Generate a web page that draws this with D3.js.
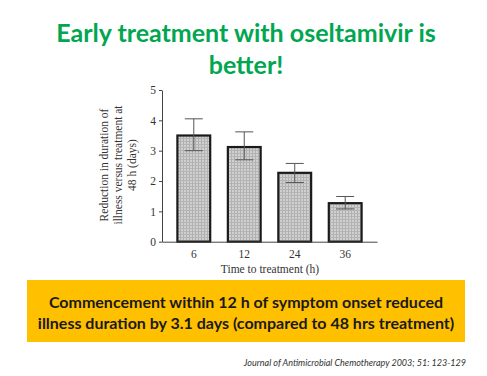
<!DOCTYPE html>
<html>
<head>
<meta charset="utf-8">
<script src="https://cdn.jsdelivr.net/npm/d3@7"></script>
<style>
  body { margin: 0; background: #fff; }
  svg { display: block; }
</style>
</head>
<body>
<svg id="drawing_region"></svg>
<script>
// values
const hours = ['6', '12', '24', '36'];
const reduction = [3.5, 3.12, 2.27, 1.27];
const errLow = [3.0, 2.7, 1.95, 1.08];
const errHigh = [4.05, 3.62, 2.58, 1.49];
const yTicks = [0, 1, 2, 3, 4, 5];

const titleLines = ['Early treatment with oseltamivir is', 'better!'];
const boxLines = ['Commencement within 12 h of symptom onset reduced',
                  'illness duration by 3.1 days (compared to 48 hrs treatment)'];
const yLabelLines = ['Reduction in duration of', 'illness versus treatment at', '48 h (days)'];
const citation = 'Journal of Antimicrobial Chemotherapy 2003; 51: 123-129';

const data = hours.map((h, i) => ({h: h, v: reduction[i], lo: errLow[i], hi: errHigh[i]}));

const W = 487, H = 376;
const svg = d3.select('#drawing_region')
    .attr('width', W)
    .attr('height', H);

// grid-ish stipple for the bars
const defs = svg.append('defs');
const pat = defs.append('pattern')
    .attr('id', 'stipple')
    .attr('width', 3).attr('height', 3)
    .attr('patternUnits', 'userSpaceOnUse');
pat.append('rect').attr('width', 3).attr('height', 3).attr('fill', '#d0d0d0');
pat.append('rect').attr('width', 1).attr('height', 3).attr('fill', '#b0b0b0');
pat.append('rect').attr('width', 3).attr('height', 1).attr('fill', '#b4b4b4');

// title
svg.append('g').selectAll('text')
    .data(titleLines)
    .enter()
    .append('text')
    .attr('x', 246)
    .attr('y', (d, i) => 42 + i * 32)
    .attr('text-anchor', 'middle')
    .attr('font-family', 'Lato, "Open Sans", sans-serif')
    .attr('font-weight', 'bold')
    .attr('font-size', '25px')
    .attr('fill', '#00a650')
    .text(d => d);

// chart
const x = d3.scaleBand()
    .domain(hours)
    .range([162, 377])
    .paddingInner(0.35)
    .paddingOuter(0.305);

const y = d3.scaleLinear()
    .domain([0, 5])
    .range([241.7, 90]);

const chart = svg.append('g');

chart.selectAll('.bar')
    .data(data)
    .enter()
    .append('rect')
    .attr('class', 'bar')
    .attr('x', d => x(d.h))
    .attr('y', d => y(d.v))
    .attr('width', x.bandwidth())
    .attr('height', d => y(0) - y(d.v))
    .attr('fill', 'url(#stipple)')
    .attr('stroke', '#1a1a1a')
    .attr('stroke-width', 2.2);

// error bars
const eb = chart.selectAll('.err')
    .data(data)
    .enter()
    .append('g')
    .attr('class', 'err')
    .attr('stroke', '#555')
    .attr('stroke-width', 1);
const cx = d => x(d.h) + x.bandwidth() / 2;
eb.append('line')
    .attr('x1', cx).attr('x2', cx)
    .attr('y1', d => y(d.hi)).attr('y2', d => y(d.lo));
eb.append('line')
    .attr('x1', d => cx(d) - 9).attr('x2', d => cx(d) + 9)
    .attr('y1', d => y(d.hi)).attr('y2', d => y(d.hi));
eb.append('line')
    .attr('x1', d => cx(d) - 9).attr('x2', d => cx(d) + 9)
    .attr('y1', d => y(d.lo)).attr('y2', d => y(d.lo));

// axes
const serif = '"Liberation Serif", "DejaVu Serif", serif';

const yAxis = chart.append('g')
    .attr('transform', 'translate(162,0)')
    .call(d3.axisLeft(y).tickValues(yTicks).tickFormat(d3.format('d'))
        .tickSize(3).tickSizeOuter(0).tickPadding(3));

const xAxis = chart.append('g')
    .attr('transform', `translate(0,${y(0)})`)
    .call(d3.axisBottom(x).tickSize(0).tickSizeOuter(0).tickPadding(8));

[yAxis, xAxis].forEach(a => {
    a.select('.domain').attr('stroke', '#444');
    a.selectAll('.tick line').attr('stroke', '#444');
    a.selectAll('text')
        .attr('font-family', serif)
        .attr('font-size', '11.5px')
        .attr('fill', '#333');
});

chart.append('text')
    .attr('x', 270)
    .attr('y', 273)
    .attr('text-anchor', 'middle')
    .attr('font-family', serif)
    .attr('font-size', '11.5px')
    .attr('fill', '#333')
    .text('Time to treatment (h)');

chart.append('g')
    .attr('transform', 'translate(118,165) rotate(-90)')
    .selectAll('text')
    .data(yLabelLines)
    .enter()
    .append('text')
    .attr('x', 0)
    .attr('y', (d, i) => -10 + i * 14)
    .attr('text-anchor', 'middle')
    .attr('font-family', serif)
    .attr('font-size', '11.5px')
    .attr('fill', '#333')
    .text(d => d);

// orange call-out box
svg.append('rect')
    .attr('x', 27)
    .attr('y', 280)
    .attr('width', 438)
    .attr('height', 62)
    .attr('fill', '#ffc000');

svg.append('g').selectAll('text')
    .data(boxLines)
    .enter()
    .append('text')
    .attr('x', 246)
    .attr('y', (d, i) => 308 + i * 21)
    .attr('text-anchor', 'middle')
    .attr('font-family', 'Lato, "Open Sans", sans-serif')
    .attr('font-weight', 'bold')
    .attr('font-size', '16px')
    .attr('fill', '#1a1a1a')
    .text(d => d);

svg.append('text')
    .attr('x', 466)
    .attr('y', 366)
    .attr('text-anchor', 'end')
    .attr('font-family', 'Lato, "Open Sans", sans-serif')
    .attr('font-style', 'italic')
    .attr('font-size', '9px')
    .attr('fill', '#333')
    .text(citation);
</script>
</body>
</html>
